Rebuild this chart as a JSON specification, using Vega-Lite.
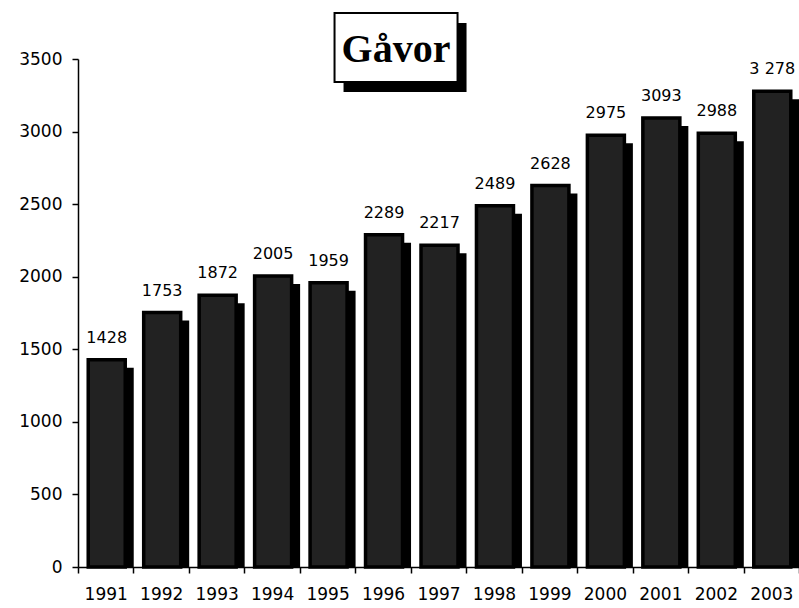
{
  "$schema": "https://vega.github.io/schema/vega-lite/v6.json",
  "autosize": "none",
  "width": 721,
  "height": 508,
  "padding": {"left": 78, "top": 59, "right": 0, "bottom": 41},
  "background": "white",
  "config": {"view": {"stroke": null}},
  "data": {
    "values": [
      {"year": "1991", "value": 1428, "label": "1428"},
      {"year": "1992", "value": 1753, "label": "1753"},
      {"year": "1993", "value": 1872, "label": "1872"},
      {"year": "1994", "value": 2005, "label": "2005"},
      {"year": "1995", "value": 1959, "label": "1959"},
      {"year": "1996", "value": 2289, "label": "2289"},
      {"year": "1997", "value": 2217, "label": "2217"},
      {"year": "1998", "value": 2489, "label": "2489"},
      {"year": "1999", "value": 2628, "label": "2628"},
      {"year": "2000", "value": 2975, "label": "2975"},
      {"year": "2001", "value": 3093, "label": "3093"},
      {"year": "2002", "value": 2988, "label": "2988"},
      {"year": "2003", "value": 3278, "label": "3 278"}
    ]
  },
  "encoding": {
    "x": {
      "field": "year",
      "type": "nominal",
      "sort": null,
      "scale": {"paddingInner": 0, "paddingOuter": 0},
      "axis": {
        "title": null,
        "labelAngle": 0,
        "labelFont": "DejaVu Sans",
        "labelFontSize": 17,
        "labelColor": "black",
        "labelPadding": 13,
        "tickBand": "extent",
        "tickSize": 6,
        "tickColor": "black",
        "tickWidth": 1.5,
        "domainColor": "black",
        "domainWidth": 1.5
      }
    },
    "y": {
      "field": "value",
      "type": "quantitative",
      "scale": {"domain": [0, 3500], "nice": false},
      "axis": {
        "title": null,
        "format": "d",
        "values": [0, 500, 1000, 1500, 2000, 2500, 3000, 3500],
        "grid": false,
        "labelFont": "DejaVu Sans",
        "labelFontSize": 17,
        "labelColor": "black",
        "labelPadding": 10,
        "tickSize": 6,
        "tickColor": "black",
        "tickWidth": 1.5,
        "domainColor": "black",
        "domainWidth": 1.5
      }
    }
  },
  "layer": [
    {
      "mark": {"type": "bar", "color": "black", "width": 40, "xOffset": 8, "yOffset": 8, "y2Offset": 0},
      "encoding": {"y2": {"datum": 0}}
    },
    {
      "mark": {"type": "bar", "fill": "#222222", "stroke": "black", "strokeWidth": 3.5, "width": 37, "xOffset": 1}
    },
    {
      "mark": {"type": "text", "font": "DejaVu Sans", "fontSize": 16, "color": "black", "baseline": "alphabetic", "dy": -17, "xOffset": 1},
      "encoding": {"text": {"field": "label"}}
    },
    {
      "data": {"values": [{"title": "Gåvor", "xpos": "1996", "top": 3817, "bottom": 3341}]},
      "mark": {"type": "rect", "color": "black", "width": 123, "xOffset": 22, "yOffset": 10, "y2Offset": 10},
      "encoding": {
        "x": {"field": "xpos", "type": "nominal"},
        "y": {"field": "top", "type": "quantitative"},
        "y2": {"field": "bottom"}
      }
    },
    {
      "data": {"values": [{"title": "Gåvor", "xpos": "1996", "top": 3817, "bottom": 3341}]},
      "mark": {"type": "rect", "fill": "white", "stroke": "black", "strokeWidth": 2, "width": 123, "xOffset": 13},
      "encoding": {
        "x": {"field": "xpos", "type": "nominal"},
        "y": {"field": "top", "type": "quantitative"},
        "y2": {"field": "bottom"}
      }
    },
    {
      "data": {"values": [{"title": "Gåvor", "xpos": "1996", "mid": 3579}]},
      "mark": {"type": "text", "font": "Liberation Serif", "fontWeight": "bold", "fontSize": 40, "color": "black", "baseline": "middle", "align": "center", "xOffset": 13, "dy": 2},
      "encoding": {
        "x": {"field": "xpos", "type": "nominal"},
        "y": {"field": "mid", "type": "quantitative"},
        "text": {"field": "title"}
      }
    }
  ]
}
